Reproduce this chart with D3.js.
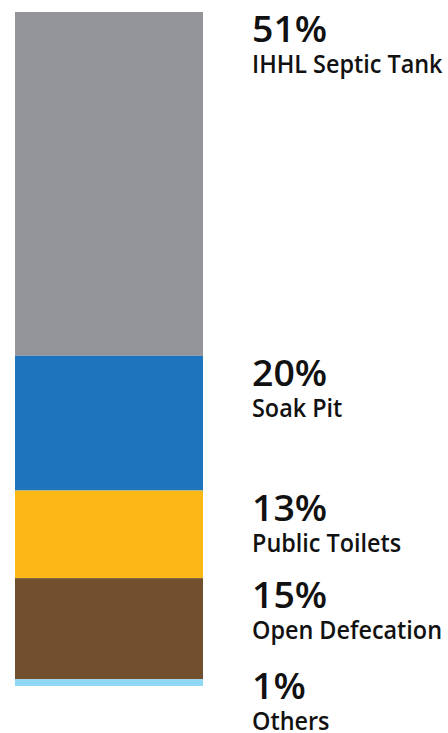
<!DOCTYPE html>
<html>
<head>
<meta charset="utf-8">
<script src="https://cdn.jsdelivr.net/npm/d3@7"></script>
<style>
  body { margin: 0; background: #fff; }
  svg { display: block; }
</style>
</head>
<body>
<svg width="448" height="733"></svg>
<script>
// share of households by type of sanitation
var categories = ['IHHL Septic Tank', 'Soak Pit', 'Public Toilets', 'Open Defecation', 'Others'];
var shares = [51, 20, 13, 15, 1];
var colors = ['#949599', '#1e74bd', '#fbb715', '#714f2f', '#8fd8f6'];

var svg = d3.select('svg');

// one stacked column
var row = {};
categories.forEach(function (c, i) { row[c] = shares[i]; });
var series = d3.stack().keys(categories)([row]);

var x = d3.scaleBand().domain(['all']).range([15, 203]).padding(0);
var y = d3.scaleLinear().domain([0, 100]).range([12, 686]);

svg.append('g')
    .selectAll('rect')
    .data(series)
    .join('rect')
    .attr('x', x('all'))
    .attr('width', x.bandwidth())
    .attr('y', function (d) { return y(d[0][0]); })
    .attr('height', function (d) { return y(d[0][1]) - y(d[0][0]); })
    .style('fill', function (d, i) { return colors[i]; });

// labels next to the top of each piece, last one pushed up to fit
var labelX = 252;
var labels = svg.append('g')
    .selectAll('g')
    .data(series)
    .join('g')
    .attr('transform', function (d) {
        var yy = Math.min(y(d[0][0]) + 30, 699);
        return 'translate(' + labelX + ',' + yy + ')';
    });

labels.append('text')
    .text(function (d, i) { return shares[i] + '%'; })
    .attr('transform', 'scale(1.04,1)')
    .style('font-family', '"Open Sans", sans-serif')
    .style('font-weight', 600)
    .style('font-size', '36px')
    .style('fill', '#111');

labels.append('text')
    .text(function (d) { return d.key; })
    .attr('y', 31)
    .attr('transform', 'scale(0.9,1)')
    .style('font-family', '"Open Sans", sans-serif')
    .style('font-weight', 600)
    .style('font-size', '26px')
    .style('fill', '#111');
</script>
</body>
</html>
